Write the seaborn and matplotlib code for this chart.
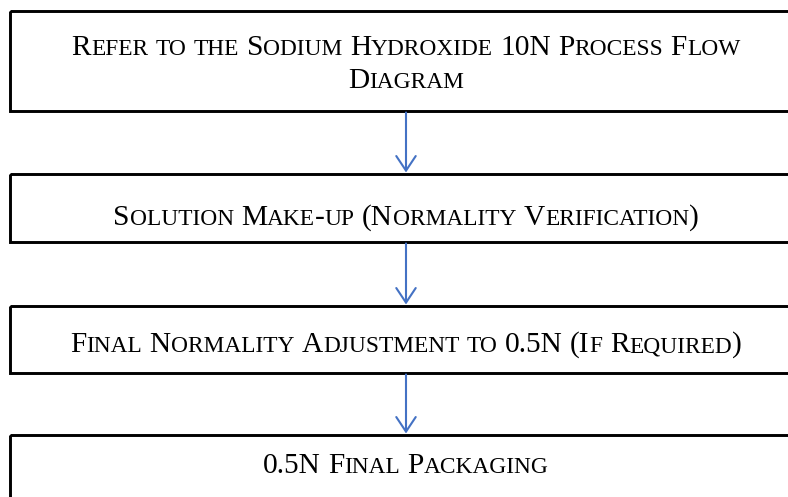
import matplotlib
matplotlib.use("Agg")
import matplotlib.pyplot as plt
from matplotlib.font_manager import FontProperties
from matplotlib.patches import Rectangle, FancyArrowPatch
import seaborn as sns

# ======================================================
# DATA
# ======================================================

# one list of (already wrapped) lines per flow step
step_lines = [
    ["Refer to the Sodium Hydroxide 10N Process Flow", "Diagram"],
    ["Solution Make-up (Normality Verification)"],
    ["Final Normality Adjustment to 0.5N (If Required)"],
    ["0.5N Final Packaging"],
]

# ======================================================
# LAYOUT (pixel units, origin top-left)
# ======================================================

W, H = 788, 497
BOX_LEFT, BOX_RIGHT = 10, 802
box_tops = [11, 174, 306, 435]
box_bottoms = [111, 242, 373, 530]
line_baselines = [[55, 88], [225], [352], [473]]

ARROW_X = 406
ARROW_COLOR = "#4472C4"
BIG_PT = 21.2
SMALL_PT = 16.8
FAMILY = ["Liberation Serif", "DejaVu Serif"]

sns.set_theme(style="white")
plt.rcParams["font.family"] = FAMILY

fig = plt.figure(figsize=(W / 100, H / 100), dpi=100)
ax = fig.add_axes([0, 0, 1, 1])
ax.set_xlim(0, W)
ax.set_ylim(H, 0)
ax.axis("off")

big = FontProperties(family=FAMILY, size=BIG_PT)
small = FontProperties(family=FAMILY, size=SMALL_PT)
renderer = fig.canvas.get_renderer()
space_px = 0.25 * BIG_PT * 100 / 72


def runs_of(s):
    """Split a string into (kind, text) runs: space / small / big."""
    out = []
    for ch in s:
        kind = "space" if ch == " " else ("small" if ch.islower() else "big")
        if out and out[-1][0] == kind:
            out[-1][1] += ch
        else:
            out.append([kind, ch])
    return out


def draw_small_caps(s, cx, baseline):
    pieces = []
    for kind, txt in runs_of(s):
        if kind == "space":
            pieces.append((None, None, space_px * len(txt)))
            continue
        prop = small if kind == "small" else big
        txt = txt.upper()
        w, _, _ = renderer.get_text_width_height_descent(txt, prop, ismath=False)
        pieces.append((txt, prop, w))
    x = cx - sum(p[2] for p in pieces) / 2
    for txt, prop, w in pieces:
        if txt is not None:
            ax.text(x, baseline, txt, fontproperties=prop, color="black",
                    ha="left", va="baseline")
        x += w


cx = (BOX_LEFT + BOX_RIGHT) / 2
for i, lines in enumerate(step_lines):
    ax.add_patch(Rectangle((BOX_LEFT, box_tops[i]), BOX_RIGHT - BOX_LEFT,
                           box_bottoms[i] - box_tops[i], fill=False,
                           edgecolor="black", linewidth=2.1, clip_on=False))
    for line, base in zip(lines, line_baselines[i]):
        draw_small_caps(line, cx, base)
    if i < len(step_lines) - 1:
        ax.add_patch(FancyArrowPatch(
            (ARROW_X, box_bottoms[i] + 1.5), (ARROW_X, box_tops[i + 1] - 1.5),
            arrowstyle="->,head_length=10.5,head_width=7", mutation_scale=1,
            color=ARROW_COLOR, linewidth=1.5, shrinkA=0, shrinkB=0))

fig.savefig("out.png", dpi=100, facecolor="white")
